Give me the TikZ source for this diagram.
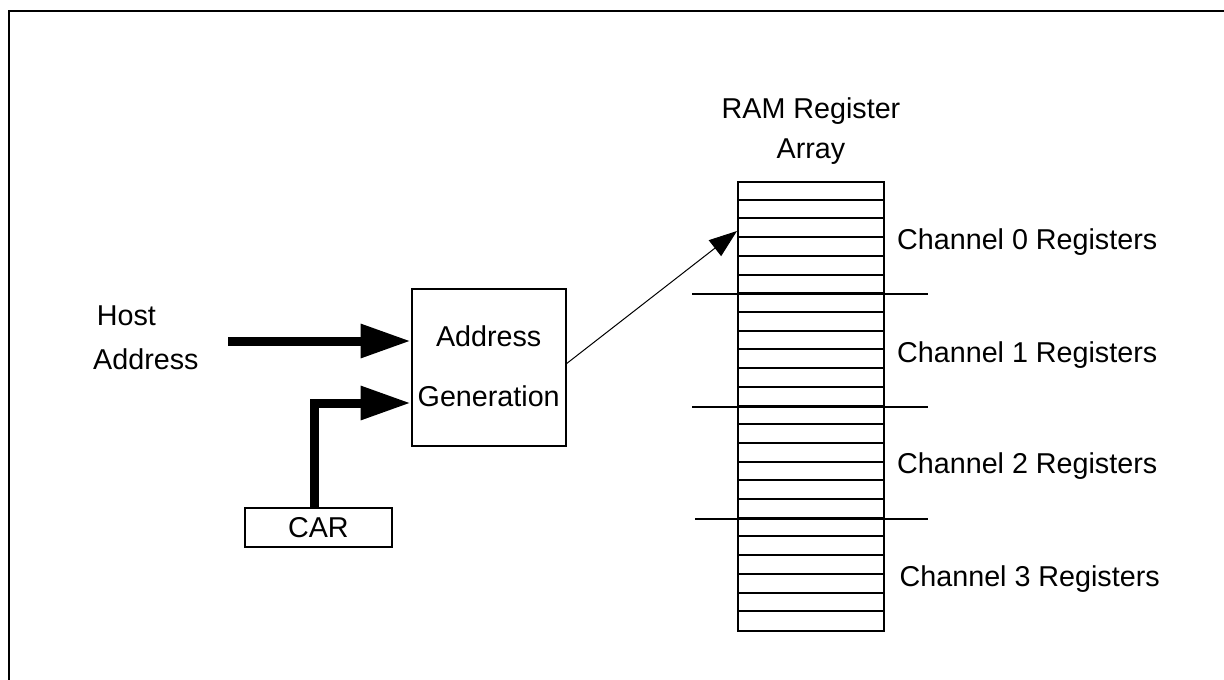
\documentclass[tikz,border=0pt]{standalone}
\usepackage{fontspec}
\setmainfont{Liberation Sans}
\usetikzlibrary{arrows.meta,calc}
\tikzset{
  lbl/.style={inner sep=0pt, font=\fontsize{28.7}{34}\selectfont},
  boxline/.style={line width=2pt},
  blk/.style={draw, boxline, inner sep=0pt},
  fatarrow/.style={line width=9pt, line join=miter, -{Triangle[length=50pt,width=32pt]}},
  thinarrow/.style={line width=1pt, -{Triangle[length=28pt,width=20pt]}},
}
\begin{document}
\begin{tikzpicture}[x=1pt,y=-1pt]
\useasboundingbox (0,0) rectangle (1224,680);
% frame
\draw[line width=2pt, line join=miter] (1226,11) -- (8.6,11) -- (8.6,682);

% address generation block
\node[blk, minimum width=154pt, minimum height=156.5pt] (ag) at (488.7,367.5) {};
\node[lbl, anchor=base] (ag1) at (488.7,346) {Address};
\node[lbl, anchor=base] (ag2) at (488.7,406) {Generation};

% CAR
\node[blk, lbl, minimum width=146.7pt, minimum height=39.6pt] (car) at (318.4,527.5) {CAR};

% host address label
\node[lbl, anchor=base west] (host1) at (96.7,325.7) {Host};
\node[lbl, anchor=base west] (host2) at (93,369) {Address};

% register array
\node[blk, minimum width=145.5pt, minimum height=449pt] (arr) at (811,406.5) {};
\foreach \i in {1,...,23}
  \draw[boxline] ($(arr.north west)+(0,\i*18.7083)$) -- ($(arr.north east)+(0,\i*18.7083)$);
\draw[boxline] (692,294.25) -- (928,294.25);
\draw[boxline] (692,406.5) -- (928,406.5);
\draw[boxline] (695,518.75) -- (928,518.75);

\node[lbl, anchor=base] (ram1) at (811,118) {RAM Register};
\node[lbl, anchor=base] (ram2) at (811,158) {Array};

\node[lbl, anchor=base west] (ch0) at (897,249) {Channel 0 Registers};
\node[lbl, anchor=base west] (ch1) at (897,362) {Channel 1 Registers};
\node[lbl, anchor=base west] (ch2) at (897,473.5) {Channel 2 Registers};
\node[lbl, anchor=base west] (ch3) at (899.5,586.5) {Channel 3 Registers};

% connectors
\coordinate (hs) at (228,341);
\draw[fatarrow] (hs) -- (hs -| ag.west);
\draw[fatarrow] ([xshift=-4.4pt]car.north) |- ([yshift=-35.5pt]ag.west);
\coordinate (tip) at (737,231);
\draw[thinarrow] ([yshift=4pt]ag.east) -- (tip);
\end{tikzpicture}
\end{document}
